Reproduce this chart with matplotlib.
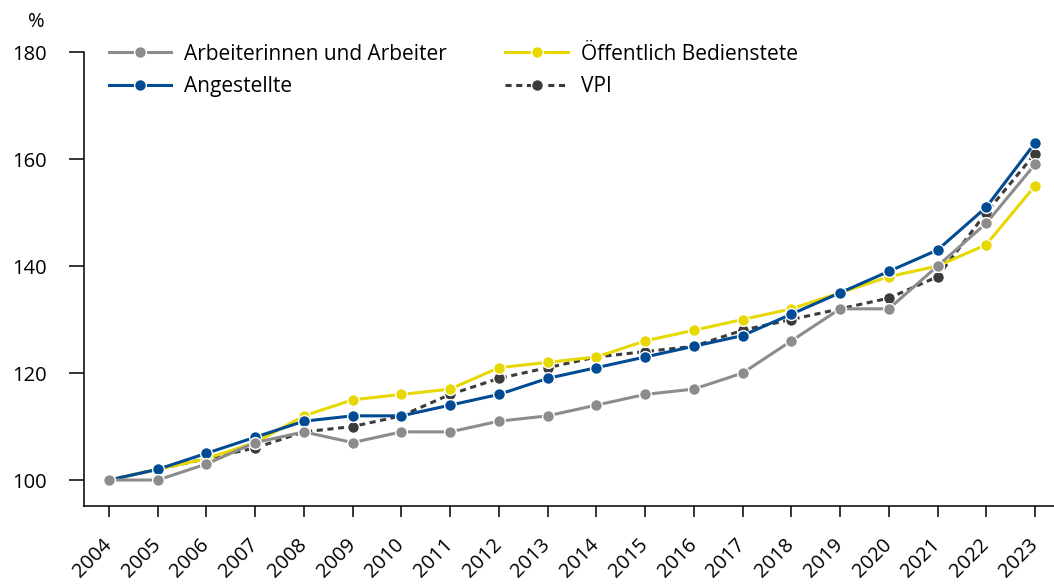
import matplotlib.pyplot as plt

years = list(range(2004, 2024))
arbeiter = [100, 100, 103, 107, 109, 107, 109, 109, 111, 112, 114, 116, 117, 120, 126, 132, 132, 140, 148, 159]
angestellte = [100, 102, 105, 108, 111, 112, 112, 114, 116, 119, 121, 123, 125, 127, 131, 135, 139, 143, 151, 163]
oeffentlich = [100, 102, 104, 107, 112, 115, 116, 117, 121, 122, 123, 126, 128, 130, 132, 135, 138, 140, 144, 155]
vpi = [100, 102, 104, 106, 109, 110, 112, 116, 119, 121, 123, 124, 125, 128, 130, 132, 134, 138, 150, 161]

plt.rcParams['font.family'] = ['Open Sans', 'DejaVu Sans']

fig = plt.figure(figsize=(10.54, 5.85), dpi=100)
ax = fig.add_axes([0.0797, 0.135, 0.9203, 0.776])

mk = dict(marker='o', markersize=8.5, markeredgecolor='white', markeredgewidth=1)
l_vpi, = ax.plot(years, vpi, color='#3c3c3c', linestyle=(0, (2, 1.5)), lw=2.2, label='VPI', **mk)
l_oef, = ax.plot(years, oeffentlich, color='#e6d800', lw=2.2, label='Öffentlich Bedienstete', **mk)
l_ang, = ax.plot(years, angestellte, color='#004b93', lw=2.2, label='Angestellte', **mk)
l_arb, = ax.plot(years, arbeiter, color='#8c8c8c', lw=2.2, label='Arbeiterinnen und Arbeiter', **mk)

ax.set_xlim(2003.487, 2023.39)
ax.set_ylim(95.14, 180)
ax.set_yticks([100, 120, 140, 160, 180])
ax.set_xticks(years)
ax.set_xticklabels([str(y) for y in years], rotation=45, ha='right', va='center',
                   rotation_mode='anchor')
ax.tick_params(axis='both', labelsize=14.5, colors='black', width=1.1)
ax.tick_params(axis='x', length=8, pad=18)
ax.tick_params(axis='y', length=11, pad=16)

for s in ['top', 'right']:
    ax.spines[s].set_visible(False)
for s in ['left', 'bottom']:
    ax.spines[s].set_linewidth(1.1)

fig.text(0.0427, 0.962, '%', fontsize=14.5, ha='right', va='center')

ax.legend([l_arb, l_ang, l_oef, l_vpi],
          [l.get_label() for l in [l_arb, l_ang, l_oef, l_vpi]],
          ncol=2, frameon=False, fontsize=15, loc='upper left',
          bbox_to_anchor=(0.0854, 0.9573), bbox_transform=fig.transFigure,
          columnspacing=2.8, handlelength=3.0, handletextpad=0.63,
          labelspacing=0.55)

fig.savefig('out.png', dpi=100)
